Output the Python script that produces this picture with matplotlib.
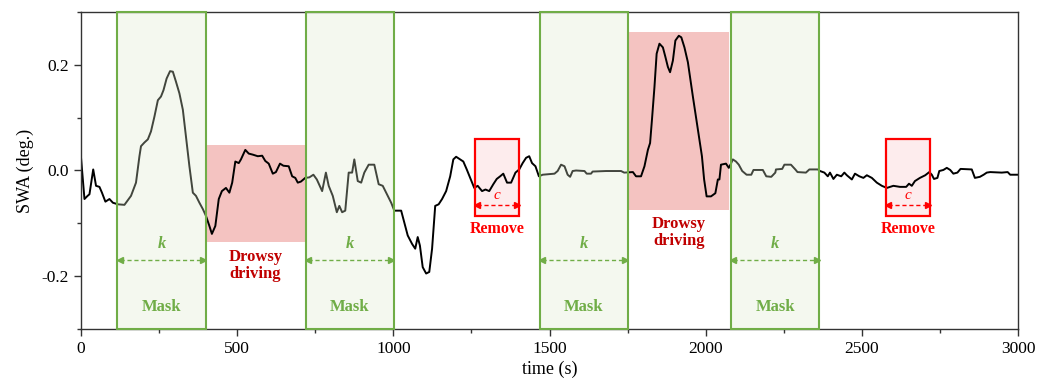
import matplotlib
matplotlib.use("Agg")
import matplotlib.pyplot as plt
from matplotlib.patches import Rectangle
from matplotlib.ticker import MultipleLocator

plt.rcParams["font.family"] = ["Liberation Serif", "DejaVu Serif"]
plt.rcParams["axes.unicode_minus"] = False

# Steering wheel angle trace
time_s = [0, 11, 21, 27, 39, 48, 59, 67, 78, 91, 102, 118, 139, 160, 176, 187, 192,
          203, 214, 224, 235, 246, 256, 264, 274, 285, 294, 304, 315, 326, 336, 347,
          358, 368, 379, 390, 400, 411, 419, 430, 441, 451, 464, 475, 484, 494, 505,
          512, 526, 537, 550, 566, 580, 590, 601, 614, 624, 637, 648, 665, 676, 686,
          694, 704, 718, 731, 744, 755, 772, 784, 793, 806, 819, 827, 836, 846, 857,
          868, 875, 886, 897, 907, 921, 939, 953, 966, 982, 993, 1003, 1025, 1035,
          1046, 1060, 1070, 1078, 1085, 1094, 1105, 1115, 1124, 1134, 1145, 1156,
          1169, 1182, 1192, 1201, 1214, 1224, 1235, 1246, 1259, 1270, 1284, 1295,
          1307, 1320, 1331, 1342, 1352, 1364, 1377, 1391, 1403, 1414, 1425, 1435,
          1444, 1455, 1466, 1478, 1516, 1526, 1537, 1548, 1558, 1566, 1574, 1585,
          1612, 1619, 1633, 1638, 1681, 1729, 1739, 1767, 1777, 1793, 1804, 1815,
          1822, 1828, 1836, 1843, 1852, 1863, 1871, 1879, 1886, 1895, 1903, 1914,
          1922, 1932, 1943, 1959, 1977, 1988, 1995, 2003, 2017, 2031, 2039, 2044,
          2049, 2065, 2074, 2081, 2087, 2097, 2106, 2117, 2131, 2146, 2153, 2183,
          2194, 2210, 2223, 2225, 2245, 2252, 2273, 2287, 2294, 2321, 2332, 2359,
          2366, 2380, 2391, 2398, 2409, 2420, 2434, 2444, 2452, 2468, 2478, 2492,
          2505, 2516, 2532, 2548, 2564, 2580, 2601, 2622, 2642, 2651, 2660, 2670,
          2686, 2703, 2716, 2724, 2731, 2742, 2748, 2761, 2772, 2783, 2793, 2806,
          2816, 2852, 2862, 2878, 2890, 2900, 2911, 2948, 2967, 2975, 3000]
swa_deg = [0.024, -0.054, -0.048, -0.045, 0.002, -0.029, -0.031, -0.042, -0.059,
           -0.054, -0.061, -0.064, -0.065, -0.048, -0.023, 0.027, 0.046, 0.053,
           0.059, 0.074, 0.102, 0.133, 0.140, 0.152, 0.174, 0.188, 0.187, 0.168,
           0.146, 0.115, 0.064, 0.008, -0.042, -0.048, -0.061, -0.073, -0.086,
           -0.105, -0.120, -0.105, -0.054, -0.039, -0.033, -0.042, -0.023, 0.017,
           0.014, 0.021, 0.039, 0.032, 0.030, 0.027, 0.028, 0.018, 0.013, -0.006,
           -0.003, 0.013, 0.009, 0.008, -0.011, -0.014, -0.023, -0.021, -0.014,
           -0.013, -0.008, -0.017, -0.039, -0.004, -0.029, -0.048, -0.079, -0.067,
           -0.079, -0.076, -0.004, -0.004, 0.021, -0.020, -0.023, -0.004, 0.011,
           0.011, -0.026, -0.029, -0.048, -0.061, -0.076, -0.076, -0.098, -0.123,
           -0.139, -0.148, -0.126, -0.142, -0.183, -0.195, -0.192, -0.148, -0.067,
           -0.064, -0.054, -0.039, -0.011, 0.021, 0.026, 0.021, 0.017, 0.002,
           -0.014, -0.033, -0.029, -0.039, -0.036, -0.039, -0.026, -0.016, -0.011,
           -0.006, -0.023, -0.023, -0.004, 0.002, 0.014, 0.024, 0.027, 0.014,
           0.008, -0.011, -0.008, -0.006, -0.001, 0.011, 0.008, -0.008, -0.012,
           -0.001, 0.000, -0.001, -0.006, -0.006, -0.002, -0.001, -0.001, -0.004,
           -0.003, -0.011, -0.011, 0.008, 0.039, 0.052, 0.096, 0.158, 0.221, 0.240,
           0.233, 0.215, 0.196, 0.186, 0.208, 0.246, 0.255, 0.252, 0.233, 0.205,
           0.140, 0.070, 0.027, -0.017, -0.049, -0.049, -0.043, -0.017, -0.017,
           0.011, 0.013, 0.005, 0.013, 0.021, 0.017, 0.011, -0.001, -0.008, -0.008,
           0.001, 0.001, -0.011, -0.012, -0.004, 0.002, 0.003, 0.011, 0.011, 0.002,
           -0.003, -0.004, 0.002, 0.002, -0.001, -0.004, -0.011, -0.004, -0.016,
           -0.008, -0.011, -0.004, -0.009, -0.017, -0.006, -0.011, -0.014, -0.009,
           -0.014, -0.023, -0.029, -0.033, -0.029, -0.031, -0.031, -0.025, -0.029,
           -0.020, -0.014, -0.009, -0.003, -0.008, -0.016, -0.014, -0.001, 0.001,
           0.005, 0.001, -0.006, -0.004, 0.003, 0.002, -0.014, -0.012, -0.008,
           -0.004, -0.003, -0.004, -0.003, -0.008, -0.008]

# Masked windows (start time), each of width k
mask_starts = [116, 719, 1468, 2081]
mask_width = 283

# Drowsy-driving segments: (start, end, low, high)
drowsy_x0 = [399, 1752]
drowsy_x1 = [717, 2076]
drowsy_lo = [-0.136, -0.0745]
drowsy_hi = [0.048, 0.262]
drowsy_label_y = [-0.180, -0.118]

# Removed windows of width c
remove_starts = [1261, 2577]
remove_width = 142
remove_lo = -0.087
remove_hi = 0.060

GREEN = "#70ad47"
DARK_RED = "#c00000"
RED = "#ff0000"

fig = plt.figure(figsize=(10.51, 3.83), dpi=100)
ax = fig.add_axes([0.0771, 0.141, 0.8915, 0.8277])

for x0, x1, lo, hi in zip(drowsy_x0, drowsy_x1, drowsy_lo, drowsy_hi):
    ax.add_patch(Rectangle((x0, lo), x1 - x0, hi - lo, facecolor="#f4c3c1",
                           edgecolor="none", zorder=1))

for x0 in remove_starts:
    ax.add_patch(Rectangle((x0, remove_lo), remove_width, remove_hi - remove_lo,
                           facecolor="#fdeced", edgecolor="none", zorder=1))

ax.plot(time_s, swa_deg, color="black", lw=1.4, zorder=2,
        solid_joinstyle="round", solid_capstyle="round")

# Masks are semi-transparent so the trace shows through in grey
for x0 in mask_starts:
    ax.add_patch(Rectangle((x0, -0.3), mask_width, 0.6, facecolor="#dce9cc",
                           alpha=0.3, edgecolor="none", zorder=3))
    ax.add_patch(Rectangle((x0, -0.3), mask_width, 0.6, facecolor="none",
                           edgecolor=GREEN, lw=1.5, zorder=4, clip_on=False))
    cx = x0 + mask_width / 2
    ax.text(cx, -0.139, "k", color=GREEN, fontsize=12, fontstyle="italic",
            fontweight="bold", ha="center", va="center", zorder=5)
    ax.text(cx, -0.259, "Mask", color=GREEN, fontsize=12, fontweight="bold",
            ha="center", va="center", zorder=5)
    ax.plot([x0 + 8, x0 + mask_width - 8], [-0.170, -0.170], color=GREEN,
            lw=1.0, ls=(0, (3, 2)), zorder=5)
    ax.plot([x0 + 8], [-0.170], marker="<", color=GREEN, ms=5, zorder=5)
    ax.plot([x0 + mask_width - 8], [-0.170], marker=">", color=GREEN, ms=5, zorder=5)

for x0, x1, ly in zip(drowsy_x0, drowsy_x1, drowsy_label_y):
    ax.text((x0 + x1) / 2, ly, "Drowsy\ndriving", color=DARK_RED, fontsize=12,
            fontweight="bold", ha="center", va="center", linespacing=1.1, zorder=5)

for x0 in remove_starts:
    ax.add_patch(Rectangle((x0, remove_lo), remove_width, remove_hi - remove_lo,
                           facecolor="none", edgecolor=RED, lw=1.6, zorder=4))
    cx = x0 + remove_width / 2
    ax.text(cx, -0.047, "c", color=RED, fontsize=11, fontstyle="italic",
            ha="center", va="center", zorder=5)
    ax.plot([x0 + 8, x0 + remove_width - 8], [-0.065, -0.065], color=RED,
            lw=1.0, ls=(0, (3, 2)), zorder=5)
    ax.plot([x0 + 8], [-0.065], marker="<", color=RED, ms=4.5, zorder=5)
    ax.plot([x0 + remove_width - 8], [-0.065], marker=">", color=RED, ms=4.5, zorder=5)
    ax.text(cx, -0.111, "Remove", color=RED, fontsize=11.5, fontweight="bold",
            ha="center", va="center", zorder=5)

ax.set_xlim(0, 3000)
ax.set_ylim(-0.3, 0.3)
ax.xaxis.set_major_locator(MultipleLocator(500))
ax.xaxis.set_minor_locator(MultipleLocator(250))
ax.yaxis.set_major_locator(MultipleLocator(0.2))
ax.yaxis.set_minor_locator(MultipleLocator(0.1))
ax.yaxis.set_major_formatter(matplotlib.ticker.FormatStrFormatter("%.1f"))
ax.tick_params(which="both", direction="out", top=False, right=False,
               labelsize=12.5, color="#333333")
ax.tick_params(which="major", length=5, width=1)
ax.tick_params(which="minor", length=3, width=1)
for s in ax.spines.values():
    s.set_color("#333333")
    s.set_linewidth(1.0)

ax.set_xlabel("time (s)", fontsize=13, labelpad=3)
ax.set_ylabel("SWA (deg.)", fontsize=13, labelpad=6)

fig.savefig("out.png", dpi=100)
